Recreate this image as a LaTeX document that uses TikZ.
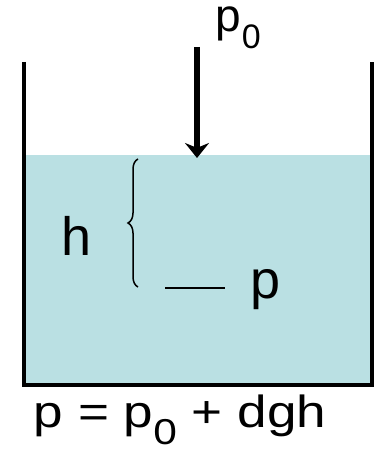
\documentclass[tikz,border=0pt]{standalone}
\usepackage{fontspec}
\setmainfont{Liberation Sans}
\newfontfamily\widefont[FakeStretch=1.18]{Liberation Sans}
\usetikzlibrary{arrows.meta,positioning,decorations.pathreplacing}
\definecolor{waterblue}{RGB}{186,224,227}
\newcommand{\subnull}[2]{\raisebox{-#1}{\fontsize{#2}{#2}\selectfont 0}}
\tikzset{
  wall/.style={
    line width=4pt,
    black
  },
  water/.style={
    fill=waterblue,
    draw=none
  },
  lbl/.style={
    inner sep=0pt,
    font=\fontsize{54}{60}\selectfont
  },
  push/.style={
    -{Stealth[length=15pt,width=24pt]},
    line width=6.5pt
  },
  thinline/.style={
    line width=2.2pt
  }
}
\begin{document}
\begin{tikzpicture}[x=1pt,y=-1pt,node distance=20pt]
\useasboundingbox (0,0) rectangle (376,449);
% tank and water
\fill[water] (26,155) rectangle (370,383);
\draw[wall] (24,62) -- (24,385) -- (372,385) -- (372,62);
% outside pressure
\coordinate (top) at (197,47);
\coordinate (surf) at (197,158);
\node[lbl,anchor=base west,font=\fontsize{46}{50}\selectfont] (pnull) at (215,32) {p\kern1pt\subnull{17pt}{34}};
\draw[push] (top) -- (surf);
% depth
\coordinate (hup) at (138,159);
\coordinate (hdown) at (138,287);
\draw[thinline,line width=1.5pt,decorate,decoration={brace,amplitude=10pt,mirror}] (hup) -- (hdown);
\node[lbl,anchor=base] (h) at (77,255) {h};
\coordinate (pline) at (165,288);
\node[lbl,anchor=base west] (p) at (250,298) {p};
\draw[thinline,shorten >=25pt] (pline) -- (pline -| p.west);
% law
\node[lbl,anchor=base,font=\widefont\fontsize{45}{50}\selectfont] (law) at (180,427) {p = p\subnull{17pt}{36}\ + dgh};
\end{tikzpicture}
\end{document}
